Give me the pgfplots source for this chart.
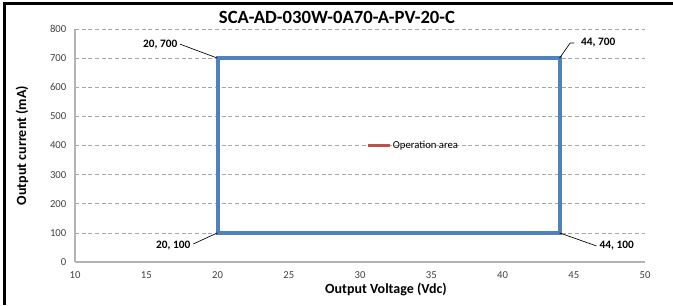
\documentclass[border=0pt]{standalone}
\usepackage{pgfplots}
\pgfplotsset{compat=1.18}
\usepackage{fontspec}
\setmainfont{Carlito}
\definecolor{cblue}{HTML}{4F81BD}
\definecolor{cred}{HTML}{C0504D}
\definecolor{cgrid}{HTML}{A6A6A6}
\definecolor{caxis}{HTML}{B3B3B3}
\definecolor{ctick}{HTML}{404040}
\begin{document}
\begin{tikzpicture}
\useasboundingbox (0,0) rectangle (504.75pt,228.75pt);
\draw[line width=2.2pt, black] (3.3pt,0) -- (3.3pt,226.4pt) -- (504.75pt,226.4pt);
\begin{axis}[
  at={(56.25pt,32.25pt)}, anchor=south west,
  scale only axis, width=427.5pt, height=174.75pt,
  xmin=10, xmax=50, ymin=0, ymax=800,
  xtick={10,15,...,50}, ytick={0,100,...,800},
  axis x line*=bottom, axis y line*=left,
  axis line style={caxis, line width=0.8pt, -},
  major tick length=0pt,
  ymajorgrids, grid style={cgrid, dash pattern=on 3pt off 2pt, line width=0.5pt},
  tick label style={font=\fontsize{8}{9}\selectfont, text=ctick},
  /pgf/number format/assume math mode=true,
  xticklabel style={yshift=-4pt},
  yticklabel style={xshift=-3pt},
  title={SCA-AD-030W-0A70-A-PV-20-C},
  title style={font=\fontsize{14}{16}\selectfont\bfseries, anchor=center, at={(axis description cs:0.5,1)}, yshift=3pt, xshift=-17.25pt},
  xlabel={Output Voltage (Vdc)},
  xlabel style={font=\fontsize{10.5}{12}\selectfont\bfseries, anchor=center, at={(axis description cs:0.5456,-0.12)}},
  ylabel={Output current (mA)},
  ylabel style={font=\fontsize{10.5}{12}\selectfont\bfseries, anchor=center, at={(axis description cs:-0.093,0.5)}},
  legend style={draw=none, fill=none, at={(axis description cs:0.5105,0.5)}, anchor=west, inner sep=0pt,
    font=\fontsize{8}{9}\selectfont, nodes={inner sep=1pt}},
  legend image code/.code={\draw[#1] (0pt,0pt) -- (16.5pt,0pt);},
  clip=false,
]
\addplot[cblue, line width=3pt, line cap=rect, line join=miter, forget plot] coordinates {(20,100) (20,700) (44,700) (44,100) (20,100)};
\addlegendimage{cred, line width=2.5pt}
\addlegendentry{Operation area}
% data labels with leader lines
\draw[black, line width=0.5pt] (axis cs:17.37,748) -- (axis cs:20,700);
\node[anchor=east, font=\fontsize{8.5}{9}\selectfont\bfseries, inner sep=1pt] at (axis cs:17.3,748) {20, 700};
\draw[black, line width=0.5pt] (axis cs:44,700) -- (axis cs:44.75,752) -- (axis cs:45.05,752);
\node[anchor=west, font=\fontsize{8.5}{9}\selectfont\bfseries, inner sep=1pt] at (axis cs:45.4,752) {44, 700};
\draw[black, line width=0.5pt] (axis cs:20,100) -- (axis cs:18.3,62);
\node[anchor=east, font=\fontsize{8.5}{9}\selectfont\bfseries, inner sep=1pt] at (axis cs:18.2,55) {20, 100};
\draw[black, line width=0.5pt] (axis cs:44,100) -- (axis cs:46.6,55);
\node[anchor=west, font=\fontsize{8.5}{9}\selectfont\bfseries, inner sep=1pt] at (axis cs:46.7,55) {44, 100};
\end{axis}
\end{tikzpicture}
\end{document}
